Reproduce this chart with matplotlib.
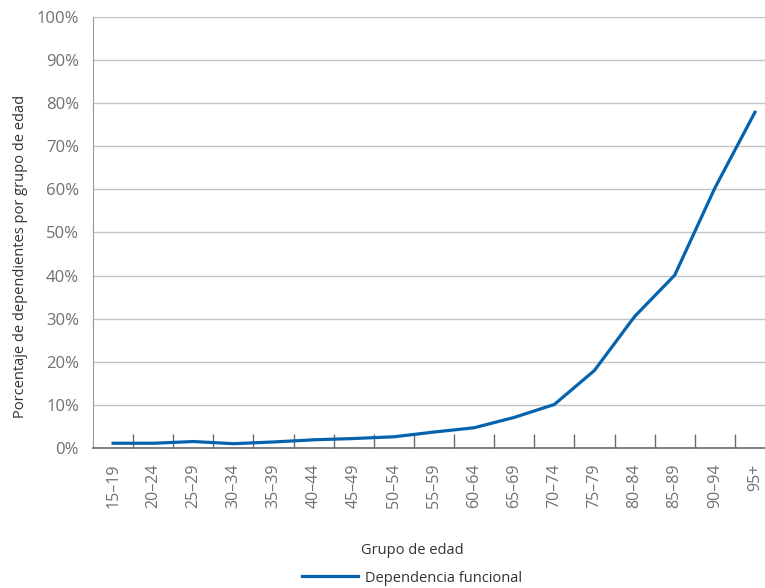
"""
Porcentaje de dependientes por grupo de edad (dependencia funcional).
"""

import matplotlib
matplotlib.use("Agg")
import matplotlib.pyplot as plt
import numpy as np

plt.rcParams['font.family'] = ['Open Sans', 'DejaVu Sans']

# grupos de edad
GROUPS = ['15-19', '20-24', '25-29', '30-34', '35-39', '40-44', '45-49',
          '50-54', '55-59', '60-64', '65-69', '70-74', '75-79', '80-84',
          '85-89', '90-94', '95+']

# porcentaje de dependientes
DEPENDENCY = [1.1, 1.1, 1.5, 1.0, 1.4, 1.9, 2.2, 2.6, 3.7, 4.7, 7.1, 10.1,
              18.0, 30.5, 40.1, 60.3, 77.9]

Y_TICKS = [0, 10, 20, 30, 40, 50, 60, 70, 80, 90, 100]

GRAY_TEXT = '#707070'
LINE_COLOR = '#0563ae'


def main():
    fig = plt.figure(figsize=(7.65, 5.88), dpi=100)
    ax = fig.add_axes([93 / 765, 140 / 588, 682 / 765, 431 / 588])

    x = np.arange(len(GROUPS))
    ax.plot(x, DEPENDENCY, color=LINE_COLOR, linewidth=2.3,
            solid_joinstyle='miter', label='Dependencia funcional')

    ax.set_xlim(-0.5, len(GROUPS) - 0.5)
    ax.set_ylim(0, 100)

    # horizontal grid
    ax.set_yticks(Y_TICKS)
    ax.set_yticklabels(['%d%%' % t for t in Y_TICKS])
    ax.yaxis.grid(True, color='#c4c4c4', linewidth=1.0)
    ax.set_axisbelow(True)

    # category labels at centers, tick marks at boundaries
    ax.set_xticks(x)
    ax.set_xticklabels([g.replace('-', '\u2013') for g in GROUPS], rotation=90)
    ax.set_xticks(np.arange(0.5, len(GROUPS) - 0.5, 1.0), minor=True)
    ax.tick_params(axis='x', which='major', length=0, pad=11,
                   labelsize=11.5, labelcolor=GRAY_TEXT)
    ax.tick_params(axis='x', which='minor', direction='in', length=10,
                   width=1.0, color='#6b6b6b')
    ax.tick_params(axis='y', length=0, pad=10, labelsize=12,
                   labelcolor=GRAY_TEXT)

    for side in ('top', 'right'):
        ax.spines[side].set_visible(False)
    ax.spines['left'].set_color('#9a9a9a')
    ax.spines['bottom'].set_color('#6b6b6b')
    ax.spines['bottom'].set_linewidth(1.2)

    ax.set_xlabel('Grupo de edad', fontsize=10.5, color='#333333')
    ax.set_ylabel('Porcentaje de dependientes por grupo de edad', fontsize=10.5,
                  color='#333333')
    ax.xaxis.set_label_coords((412 - 93) / 682, (448 - 543) / 431)
    ax.yaxis.set_label_coords((28 - 93) / 682, (448 - 256) / 431)

    fig.legend(loc='center', bbox_to_anchor=(412 / 765, 1 - 578 / 588),
               frameon=False, fontsize=10.5, handlelength=3.8,
               handletextpad=0.5, labelcolor='#333333')

    fig.savefig('out.png', dpi=100)


if __name__ == '__main__':
    main()
